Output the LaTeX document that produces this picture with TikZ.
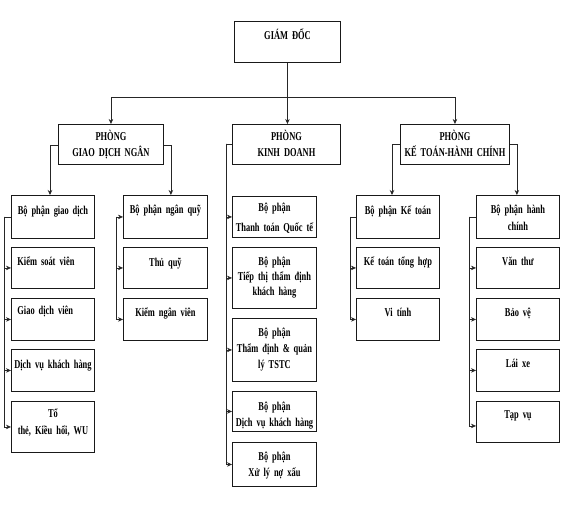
\documentclass[tikz,border=0pt]{standalone}
\usepackage{fontspec}
\newfontfamily\cf{Liberation Serif Bold}[FakeStretch=0.7]
\newcommand\fnt[1]{\cf\fontsize{12}{#1}\selectfont\spaceskip=2.6pt plus 1pt\relax}
\usetikzlibrary{calc,arrows.meta}
\tikzset{
  bx/.style={draw=black!90, line width=0.9pt, anchor=north west, inner xsep=2pt, inner ysep=0pt,
    align=center, text height=18, font=\fnt{16}},
  lft/.style={align=left},
  ln/.style={draw=black!85, line width=0.7pt},
  arr/.style={ln, -{Stealth[length=5pt,width=4.5pt]}},
}
\newcommand\mybox[7][]{\node[bx, text width={#4-#2-4}, text depth={#5-#3-18}, #1] (#6) at (#2,#3) {#7};}
\begin{document}
\begin{tikzpicture}[x=1pt,y=-1pt]
\useasboundingbox (0,0) rectangle (567,513);
\fill[white] (0,0) rectangle (567,513);

% top levels
\mybox{234}{21}{340}{62}{gdoc}{GIÁM ĐỐC}
\mybox[text height=16, text depth=24]{58}{124}{163}{164}{pgd}{PHÒNG\\GIAO DỊCH NGÂN}
\mybox[text height=16, text depth=24]{232}{124}{340}{164}{pkd}{PHÒNG\\KINH DOANH}
\mybox[text height=16, text depth=24]{400}{124}{509}{164}{pkt}{PHÒNG\\KẾ TOÁN-HÀNH CHÍNH}

% giao dich column
\mybox[text height=19, text depth=24]{11}{195}{94}{238}{bgd}{Bộ phận giao dịch}
\mybox[lft]{11}{247}{94}{288}{ksv}{\hspace*{4pt}Kiểm soát viên}
\mybox[lft, text height=16, text depth=26]{11}{298}{94}{340}{gdv}{\hspace*{4pt}Giao dịch viên}
\mybox[text height=19, text depth=23]{11}{349}{94}{391}{dvkh}{Dịch vụ khách hàng}
\mybox[text height=16, text depth=35]{11}{401}{94}{452}{tthe}{Tổ\\[1pt]thẻ, Kiều hối, WU}

% ngan quy column
\mybox{123}{195}{207}{238}{bnq}{Bộ phận ngân quỹ}
\mybox[text height=19, text depth=22]{123}{247}{207}{288}{tq}{Thủ quỹ}
\mybox{123}{298}{207}{340}{knv}{Kiểm ngân viên}

% kinh doanh column
\mybox[text height=15, text depth=26]{232}{196}{316}{237}{ttqt}{Bộ phận\\[4pt]Thanh toán Quốc tế}
\mybox[font=\fnt{15}]{232}{247}{316}{308}{ttt}{Bộ phận\\Tiếp thị thẩm định\\khách hàng}
\mybox{232}{318}{316}{381}{tdql}{Bộ phận\\Thẩm định \& quản\\lý TSTC}
\mybox[text height=19.5, text depth=20.5]{232}{391}{316}{431}{dvkh2}{Bộ phận\\Dịch vụ khách hàng}
\mybox{232}{442}{316}{486}{xlnx}{Bộ phận\\Xử lý nợ xấu}

% ke toan column
\mybox[text height=19, text depth=24]{356}{195}{439}{238}{bkt}{Bộ phận Kế toán}
\mybox{356}{247}{439}{288}{ktth}{Kế toán tổng hợp}
\mybox{356}{298}{439}{340}{vt}{Vi tính}

% hanh chinh column
\mybox[font=\fnt{17}]{476}{195}{559}{238}{bhc}{Bộ phận hành\\chính}
\mybox{476}{247}{559}{288}{vthu}{Văn thư}
\mybox{476}{298}{559}{340}{bv}{Bảo vệ}
\mybox{476}{349}{559}{391}{lx}{Lái xe}
\mybox[text height=17, text depth=24]{476}{401}{559}{442}{tv}{Tạp vụ}

% top connectors
\coordinate (bus) at ($(gdoc.south)+(0,34)$);
\draw[ln] (gdoc.south) -- (bus);
\draw[arr] (bus) -| (pgd.north);
\draw[arr] (bus) -| (pkt.north);
\draw[arr] (bus) -- (bus |- pkd.north);

% phong giao dich brackets
\coordinate (gdL) at ($(pgd.north west)+(-8,21)$);
\draw[arr] (pgd.west |- gdL) -- (gdL) -- (gdL |- bgd.north);
\coordinate (gdR) at ($(pgd.north east)+(7,21)$);
\draw[arr] (pgd.east |- gdR) -- (gdR) -- (gdR |- bnq.north);

% phong kinh doanh bracket
\coordinate (kdL) at ($(pkd.north west)+(-6,20)$);
\draw[ln] (pkd.west |- kdL) -- (kdL);
\foreach \n in {ttqt,ttt,tdql,dvkh2,xlnx} \draw[arr] (kdL) |- (\n.west);

% phong ke toan brackets
\coordinate (ktL) at ($(pkt.north west)+(-8,20)$);
\draw[arr] (pkt.west |- ktL) -- (ktL) -- (ktL |- bkt.north);
\coordinate (ktR) at ($(pkt.north east)+(7,20)$);
\draw[arr] (pkt.east |- ktR) -- (ktR) -- (ktR |- bhc.north);

% column lines
\coordinate (c1) at ($(bgd.west)+(-7,0)$);
\draw[ln] (bgd.west) -- (c1);
\foreach \n in {ksv,gdv,dvkh,tthe} \draw[arr] (c1) |- (\n.west);

\coordinate (c2) at ($(bnq.west)+(-7,0)$);
\foreach \n in {bnq,tq,knv} \draw[arr] (c2) |- (\n.west);

\coordinate (c3) at ($(bkt.west)+(-6,0)$);
\draw[ln] (bkt.west) -- (c3);
\foreach \n in {ktth,vt} \draw[arr] (c3) |- (\n.west);

\coordinate (c4) at ($(bhc.west)+(-7,0)$);
\draw[ln] (bhc.west) -- (c4);
\foreach \n in {vthu,bv,lx} \draw[arr] (c4) |- (\n.west);
\draw[arr] (c4) |- ($(tv.west)+(0,4)$);
\end{tikzpicture}
\end{document}
